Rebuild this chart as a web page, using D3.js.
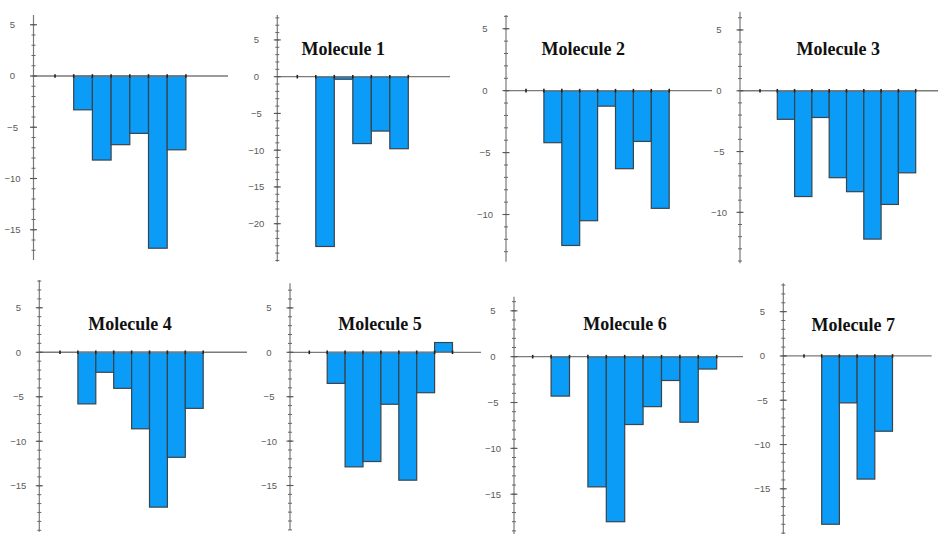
<!DOCTYPE html>
<html>
<head>
<meta charset="utf-8">
<script src="https://cdn.jsdelivr.net/npm/d3@7"></script>
<style>
  body { margin: 0; background: #fff; }
  svg { display: block; }
</style>
</head>
<body>
<svg id="chart" width="938" height="534"></svg>
<script>
// Panel titles (the first panel has none)
const titles = ["", "Molecule 1", "Molecule 2", "Molecule 3", "Molecule 4", "Molecule 5", "Molecule 6", "Molecule 7"];

// Bar values per panel (null = empty slot)
const valuesRef = [-3.3, -8.2, -6.7, -5.6, -16.8, -7.2];
const valuesMol1 = [-23.1, -0.35, -9.1, -7.4, -9.8];
const valuesMol2 = [-4.2, -12.5, -10.5, -1.25, -6.3, -4.1, -9.5];
const valuesMol3 = [-2.35, -8.7, -2.2, -7.15, -8.3, -12.2, -9.35, -6.75];
const valuesMol4 = [-5.8, -2.25, -4.05, -8.6, -17.4, -11.8, -6.3];
const valuesMol5 = [-3.5, -12.9, -12.3, -5.85, -14.4, -4.55, 1.1];
const valuesMol6 = [-4.3, null, -14.2, -18.0, -7.4, -5.45, -2.6, -7.15, -1.35];
const valuesMol7 = [-19.0, -5.3, -13.9, -8.5];
const panelValues = [valuesRef, valuesMol1, valuesMol2, valuesMol3, valuesMol4, valuesMol5, valuesMol6, valuesMol7];

// Labelled y ticks per panel
const yLabelsA = [5, 0, -5, -10, -15];
const yLabelsB = [5, 0, -5, -10, -15, -20];
const yLabelsC = [5, 0, -5, -10];
const panelYLabels = [yLabelsA, yLabelsB, yLabelsC, yLabelsC, yLabelsA, yLabelsA, yLabelsA, yLabelsA];

// Value range of each y axis
const yMins = [-17.95, -25.17, -13.81, -14.19, -20.16, -20.01, -19.34, -20.1];
const yMaxs = [5.95, 8.39, 6.11, 6.5, 8.12, 7.77, 6.54, 8.2];

// Panel geometry
const layout = [
  { axisX: 33.5,  x1: 55,    step: 18.7, xEnd: 228,   top: 15,    bottom: 260,   tx: 0,     ty: 0 },
  { axisX: 277.3, x1: 297.3, step: 18.5, xEnd: 450,   top: 15,    bottom: 261.7, tx: 343.3, ty: 55 },
  { axisX: 506,   x1: 526,   step: 17.9, xEnd: 712,   top: 15,    bottom: 261.7, tx: 583.3, ty: 55 },
  { axisX: 740,   x1: 760,   step: 17.3, xEnd: 938,   top: 11.7,  bottom: 263.3, tx: 838.3, ty: 55 },
  { axisX: 39.3,  x1: 60,    step: 17.9, xEnd: 247,   top: 280,   bottom: 531.7, tx: 130,   ty: 330 },
  { axisX: 290,   x1: 309.3, step: 17.9, xEnd: 481,   top: 283.3, bottom: 530,   tx: 380,   ty: 330 },
  { axisX: 514,   x1: 532.7, step: 18.4, xEnd: 743,   top: 296.7, bottom: 534,   tx: 625,   ty: 330 },
  { axisX: 783.3, x1: 804,   step: 17.7, xEnd: 931.7, top: 283.3, bottom: 534,   tx: 853.3, ty: 331 }
];

const svg = d3.select("#chart");

layout.forEach((L, i) => {
  const vals = panelValues[i];
  const n = vals.length;
  const g = svg.append("g");

  const y = d3.scaleLinear().domain([yMins[i], yMaxs[i]]).range([L.bottom, L.top]);
  // slot s sits at x1 + (s - 1) * step; bar k spans slots k+2 .. k+3
  const x = d3.scaleLinear().domain([1, 2]).range([L.x1, L.x1 + L.step]);
  const y0 = y(0);

  // bars
  g.selectAll("rect.bar")
    .data(vals.map((v, k) => ({ v, k })).filter(d => d.v !== null))
    .join("rect")
    .attr("class", "bar")
    .attr("x", d => x(d.k + 2))
    .attr("width", d => x(d.k + 3) - x(d.k + 2))
    .attr("y", d => Math.min(y(d.v), y0))
    .attr("height", d => Math.abs(y(d.v) - y0))
    .attr("fill", "#0a9cf7")
    .attr("stroke", "#39444c")
    .attr("stroke-width", 1.2);

  // x axis line
  g.append("line")
    .attr("x1", L.axisX).attr("x2", L.xEnd)
    .attr("y1", y0).attr("y2", y0)
    .attr("stroke", "#7a7a7a").attr("stroke-width", 1.3);

  // x ticks at every slot
  const slots = d3.range(1, n + 3);
  g.selectAll("line.xt").data(slots).join("line")
    .attr("x1", s => x(s)).attr("x2", s => x(s))
    .attr("y1", y0 - 1.8).attr("y2", y0 + 1.8)
    .attr("stroke", "#222").attr("stroke-width", 1.6);

  // y axis line
  g.append("line")
    .attr("x1", L.axisX).attr("x2", L.axisX)
    .attr("y1", L.top).attr("y2", L.bottom)
    .attr("stroke", "#7a7a7a").attr("stroke-width", 1.2);

  // minor y ticks at every unit
  const minor = d3.range(Math.ceil(yMins[i]), Math.floor(yMaxs[i]) + 1);
  g.selectAll("line.ym").data(minor).join("line")
    .attr("x1", L.axisX - 2).attr("x2", L.axisX + 2)
    .attr("y1", v => y(v)).attr("y2", v => y(v))
    .attr("stroke", "#666").attr("stroke-width", 1);

  // major y ticks and labels
  const labels = panelYLabels[i];
  g.selectAll("line.yM").data(labels).join("line")
    .attr("x1", L.axisX - 3.5).attr("x2", L.axisX + 3.5)
    .attr("y1", v => y(v)).attr("y2", v => y(v))
    .attr("stroke", "#555").attr("stroke-width", 1.1);

  g.selectAll("text.yl").data(labels).join("text")
    .attr("x", L.axisX - 21)
    .attr("y", v => y(v) + 3.4)
    .attr("text-anchor", "middle")
    .attr("font-family", "'Liberation Sans', Arial, sans-serif")
    .attr("font-size", 9.5)
    .attr("fill", "#5a5a5a")
    .text(v => d3.format("d")(v));

  if (titles[i]) {
    g.append("text")
      .attr("x", L.tx).attr("y", L.ty)
      .attr("text-anchor", "middle")
      .attr("font-family", "'Liberation Serif', 'Times New Roman', serif")
      .attr("font-weight", "bold")
      .attr("font-size", 18)
      .attr("fill", "#111")
      .text(titles[i]);
  }
});
</script>
</body>
</html>
